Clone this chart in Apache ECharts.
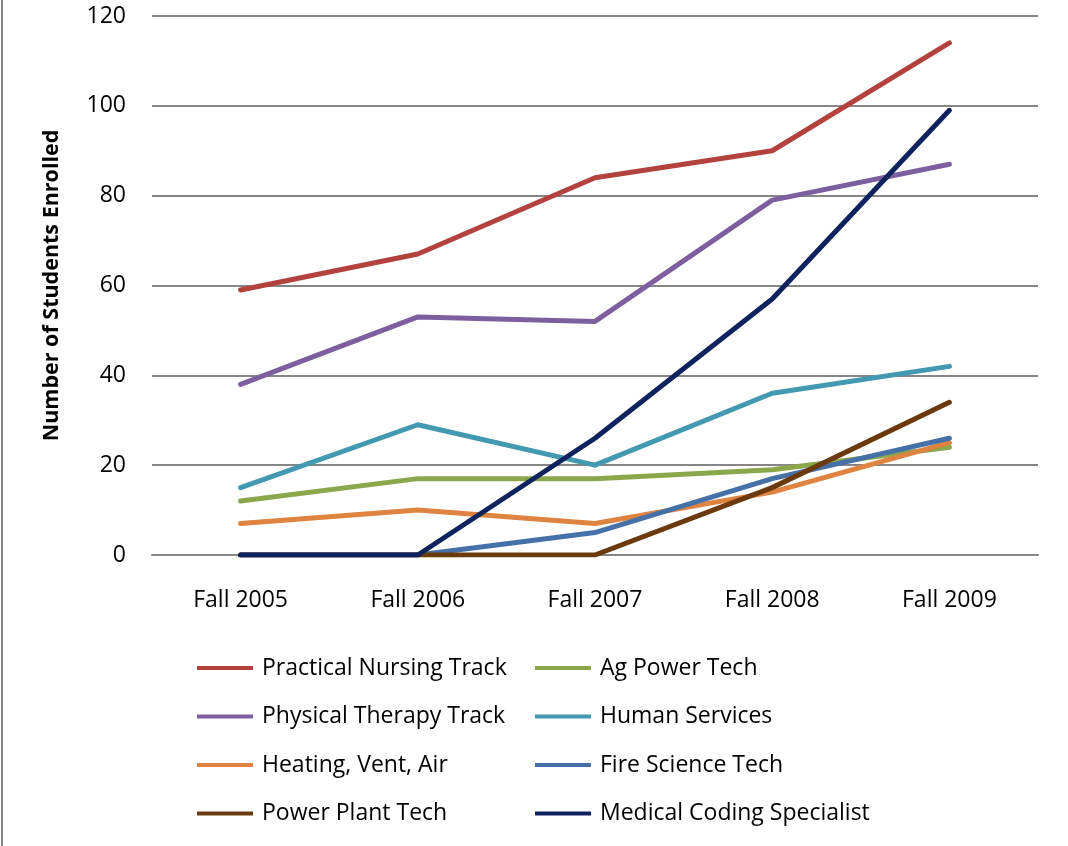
<!DOCTYPE html>
<html>
<head>
<meta charset="utf-8">
<script src="https://cdn.jsdelivr.net/npm/echarts@6/dist/echarts.min.js"></script>
<style>
html,body{margin:0;padding:0;background:#fff;}
#chart{width:1068px;height:846px;}
</style>
</head>
<body>
<div id="chart"></div>
<script>
// Enrollment by program, fall terms
const terms = ['Fall 2005', 'Fall 2006', 'Fall 2007', 'Fall 2008', 'Fall 2009'];

const practicalNursing = [59, 67, 84, 90, 114];
const agPowerTech      = [12, 17, 17, 19, 24];
const physicalTherapy  = [38, 53, 52, 79, 87];
const humanServices    = [15, 29, 20, 36, 42];
const heatingVentAir   = [7, 10, 7, 14, 25];
const fireScienceTech  = [0, 0, 5, 17, 26];
const powerPlantTech   = [0, 0, 0, 15, 34];
const medicalCoding    = [0, 0, 26, 57, 99];

const yTicks = [0, 20, 40, 60, 80, 100, 120];

const programs = [
  { name: 'Practical Nursing Track',   data: practicalNursing, color: '#B3423F' },
  { name: 'Ag Power Tech',             data: agPowerTech,      color: '#8BA74C' },
  { name: 'Physical Therapy Track',    data: physicalTherapy,  color: '#7D5F9F' },
  { name: 'Human Services',            data: humanServices,    color: '#4299B0' },
  { name: 'Heating, Vent, Air',        data: heatingVentAir,   color: '#DF8340' },
  { name: 'Fire Science Tech',         data: fireScienceTech,  color: '#4671A8' },
  { name: 'Power Plant Tech',          data: powerPlantTech,   color: '#6A3A0C' },
  { name: 'Medical Coding Specialist', data: medicalCoding,    color: '#0E235E' }
];

const font = '"Open Sans", Lato, sans-serif';

const legendCommon = {
  orient: 'vertical',
  top: 656,
  padding: 0,
  icon: 'rect',
  itemWidth: 56,
  itemHeight: 4,
  itemGap: 24.5,
  textStyle: { fontFamily: font, fontSize: 23, color: '#000', lineHeight: 24, padding: [0, 0, 0, 4] }
};

const chart = echarts.init(document.getElementById('chart'), null, { renderer: 'canvas' });
chart.setOption({
  animation: false,
  backgroundColor: '#fff',
  grid: { left: 152, right: 30, top: 16, bottom: 291, containLabel: false },
  legend: [
    Object.assign({}, legendCommon, { left: 197, data: [programs[0].name, programs[2].name, programs[4].name, programs[6].name] }),
    Object.assign({}, legendCommon, { left: 535, data: [programs[1].name, programs[3].name, programs[5].name, programs[7].name] })
  ],
  xAxis: {
    type: 'category',
    data: terms,
    boundaryGap: true,
    axisLine: { show: true, lineStyle: { color: '#868686', width: 2 } },
    axisTick: { show: false },
    axisLabel: { fontFamily: font, fontSize: 23, color: '#000', margin: 34 }
  },
  yAxis: {
    type: 'value',
    min: yTicks[0],
    max: yTicks[yTicks.length - 1],
    interval: 20,
    name: 'Number of Students Enrolled',
    nameLocation: 'middle',
    nameGap: 89,
    nameTextStyle: { fontFamily: font, fontSize: 21.5, fontWeight: 'bold', color: '#000' },
    axisLine: { show: false },
    axisTick: { show: false },
    axisLabel: { fontFamily: font, fontSize: 23, color: '#000', margin: 26 },
    splitLine: { show: true, lineStyle: { color: '#868686', width: 2 } }
  },
  graphic: [
    { type: 'line', shape: { x1: 2, y1: 0, x2: 2, y2: 846 }, style: { stroke: '#868686', lineWidth: 2 }, silent: true }
  ],
  series: programs.map(p => ({
    name: p.name,
    type: 'line',
    data: p.data,
    symbol: 'none',
    color: p.color,
    lineStyle: { color: p.color, width: 5, cap: 'round', join: 'round' },
    itemStyle: { color: p.color }
  }))
});
</script>
</body>
</html>
